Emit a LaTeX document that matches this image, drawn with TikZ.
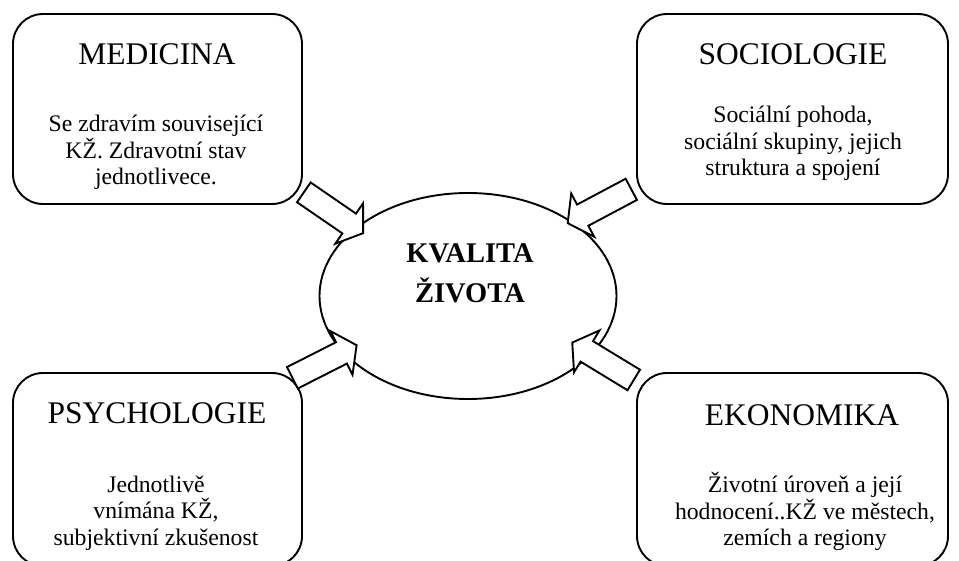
\documentclass[tikz,border=0pt]{standalone}
\usepackage{fontspec}
\setmainfont{Liberation Serif}
\usetikzlibrary{shapes.geometric}
% block arrow: (centre)(angle), 72pt long
\def\inflow(#1)(#2){\draw[line width=1.9pt, fill=white, line join=miter, shift={(#1)}, rotate=#2] (-36, -12) -- (19, -12) -- (19, -24.5) -- (36, 0) -- (19, 24.5) -- (19, 12) -- (-36, 12) -- cycle;}

\tikzset{
	field/.style={draw, line width=1.9pt, rounded corners=30pt, inner sep=0pt, minimum height=190pt},
	fieldhead/.style={anchor=base, inner sep=0pt, font=\fontsize{31.5}{38}\selectfont},
	fieldbody/.style={align=center, inner sep=0pt, font=\fontsize{23.7}{26.5}\selectfont},
}

\begin{document}
\begin{tikzpicture}[x=1pt, y=-1pt]
			%%%%% START %%%%%
			\useasboundingbox (0, 0) rectangle (959, 561);
			\clip (0, 0) rectangle (959, 561);
			
			% four fields round the centre
			\node[field, minimum width=289pt] (med) at (157.5, 109) {};
			\node[fieldhead] (medhead) at (157, 65) {MEDICINA};
			\node[fieldbody] (medbody) at (156, 152.5) {Se zdravím související\\KŽ. Zdravotní stav\\jednotlivece.};
			
			\node[field, minimum width=311pt] (soc) at (792.5, 109) {};
			\node[fieldhead] (sochead) at (793, 65) {SOCIOLOGIE};
			\node[fieldbody] (socbody) at (793, 143.5) {Sociální pohoda,\\sociální skupiny, jejich\\struktura a spojení};
			
			\node[field, minimum width=289pt, minimum height=193pt] (psy) at (157.5, 469.5) {};
			\node[fieldhead] (psyhead) at (157, 424) {PSYCHOLOGIE};
			\node[fieldbody] (psybody) at (156, 513) {Jednotlivě\\vnímána KŽ,\\subjektivní zkušenost};
			
			\node[field, minimum width=311pt, minimum height=193pt] (eko) at (792.5, 469.5) {};
			\node[fieldhead] (ekohead) at (802, 425) {EKONOMIKA};
			\node[fieldbody] (ekobody) at (805, 511.5) {Životní úroveň a její\\hodnocení..KŽ ve městech,\\zemích a regiony};
			
			% centre
			\node[draw, ellipse, line width=1.9pt, inner sep=0pt, minimum width=297pt, minimum height=206pt] (kz) at (468, 296) {};
			\node[align=center, inner sep=0pt, font=\fontsize{28.5}{40}\selectfont\bfseries] (kzlabel) at (470, 273) {KVALITA\\ŽIVOTA};
			
			% block arrows
			\inflow(333.5, 212.75)(-34.5)
			\inflow(599.5, 206.25)(-152)
			\inflow(324.5, 361.5)(26.9)
			\inflow(603, 361.25)(148.7)
			
			%%%%% END %%%%%
\end{tikzpicture}
\end{document}
